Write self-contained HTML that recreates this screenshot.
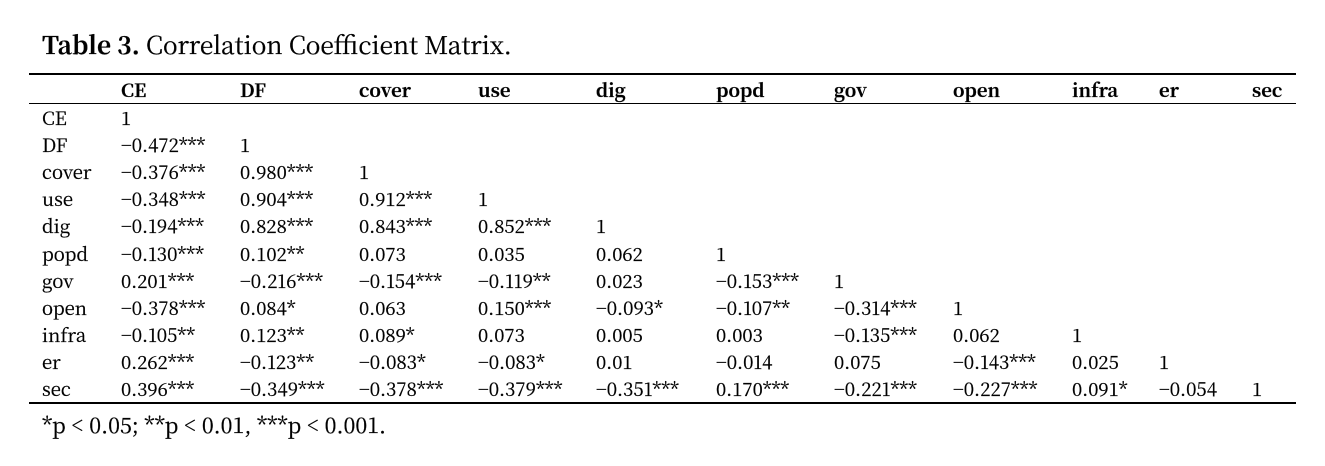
<!DOCTYPE html>
<html><head><meta charset="utf-8"><style>
body{margin:0;background:#fff;width:1325px;height:466px;position:relative;overflow:hidden;font-family:"Noto Serif CJK SC","Liberation Serif",serif;color:#000}
.t{position:absolute;white-space:nowrap;font-size:18.5px;line-height:20px;-webkit-text-stroke:0.25px #000}
.h{font-weight:bold}
.rule{position:absolute;left:29px;width:1267px;background:#000}
</style></head><body>
<div class="t" style="left:42px;top:31px;font-size:24.5px;line-height:28px"><b>Table 3.</b> Correlation Coefficient Matrix.</div>
<div class="rule" style="top:73px;height:2px"></div>
<div class="rule" style="top:103px;height:1px"></div>
<div class="rule" style="top:402px;height:2px"></div>
<div id="c"></div>
<div class="t" style="left:42px;top:413px;font-size:21.5px;line-height:24px">*p &lt; 0.05; **p &lt; 0.01, ***p &lt; 0.001.</div>
<script>
var xs=[42,121,240,359,478,596,716,834,953,1072,1159,1252];
var hd=["","CE","DF","cover","use","dig","popd","gov","open","infra","er","sec"];
var rows=[
["CE","1"],
["DF","−0.472***","1"],
["cover","−0.376***","0.980***","1"],
["use","−0.348***","0.904***","0.912***","1"],
["dig","−0.194***","0.828***","0.843***","0.852***","1"],
["popd","−0.130***","0.102**","0.073","0.035","0.062","1"],
["gov","0.201***","−0.216***","−0.154***","−0.119**","0.023","−0.153***","1"],
["open","−0.378***","0.084*","0.063","0.150***","−0.093*","−0.107**","−0.314***","1"],
["infra","−0.105**","0.123**","0.089*","0.073","0.005","0.003","−0.135***","0.062","1"],
["er","0.262***","−0.123**","−0.083*","−0.083*","0.01","−0.014","0.075","−0.143***","0.025","1"],
["sec","0.396***","−0.349***","−0.378***","−0.379***","−0.351***","0.170***","−0.221***","−0.227***","0.091*","−0.054","1"]];
var h="";
hd.forEach(function(s,i){if(s)h+='<div class="t h" style="left:'+xs[i]+'px;top:80px">'+s+'</div>';});
rows.forEach(function(r,j){var y=108+j*27.1;r.forEach(function(s,i){h+='<div class="t" style="left:'+xs[i]+'px;top:'+y+'px">'+s+'</div>';});});
document.getElementById('c').innerHTML=h;
</script>
</body></html>
